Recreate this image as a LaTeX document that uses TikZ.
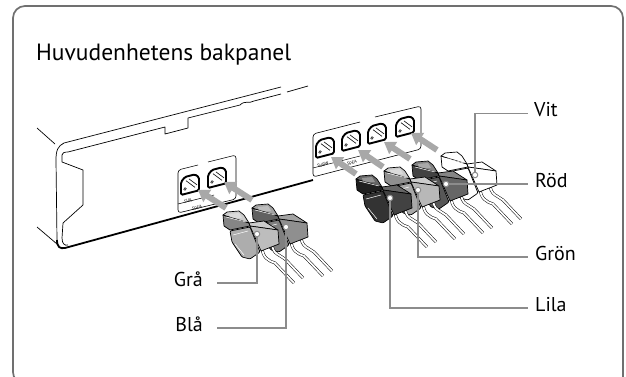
\documentclass[tikz,border=0pt]{standalone}
\usepackage{fontspec}
\setmainfont{PT Sans}
\usetikzlibrary{arrows.meta,calc}
\definecolor{framegray}{RGB}{112,112,112}
\definecolor{leadgray}{RGB}{140,140,140}
\definecolor{arrowgray}{RGB}{168,168,168}

\tikzset{
  lbl/.style={font=\fontsize{20}{24}\selectfont, inner sep=0pt},
  leader/.style={draw=leadgray, line width=1.4pt},
  ldot/.style={circle, fill=white, draw=leadgray, line width=1pt, inner sep=0pt, minimum size=5.5pt},
  cable/.style={draw=black, line width=0.5pt, double=white, double distance=1.8pt},
  pin/.style={-{Triangle[width=14pt,length=11pt]}, line width=6pt, draw=arrowgray},
  edge/.style={line width=0.7pt, line join=round},
  tiny/.style={font=\fontsize{4.5}{5}\selectfont, inner sep=0pt, rotate=14.6},
}

% plug: x, y (dot on the front face), front, side, top, foot colour
\newcommand{\plug}[6]{%
  \begin{scope}[shift={(#1,#2)}]
    \draw[cable] (5,12) .. controls (5,24) and (12,27) .. (18,29) -- (37,49);
    \draw[cable] (15,9) .. controls (15,20) and (23,21) .. (28,25) -- (46,44);
    \filldraw[edge, fill=#6, rounded corners=1pt] (-27,-3) -- (-25,8) -- (-15,23) -- (-7,25) -- (3,18) -- (-7,-7) -- cycle;
    \draw[white, line width=0.5pt] (-24,1) -- (-9,-3);
    \draw[white, line width=0.5pt] (-22,10) -- (-13,21);
    \filldraw[edge, fill=#4] (-34,-19) -- (-33,-8) -- (-27,-4) -- (-7,-8) -- (-8,-11) -- cycle;
    \filldraw[edge, fill=#5] (-34,-19) -- (-30,-22) -- (-18,-23) -- (-13,-19) -- (-8,-11) -- cycle;
    \fill[white, opacity=0.3] (-28,-20) -- (-18,-21) -- (-15,-16) -- (-27,-16) -- cycle;
    \draw[white, line width=0.5pt] (-31,-17) -- (-11,-12);
    \filldraw[edge, fill=#5] (-8,-11) -- (7,-13) -- (21,-4) -- (-7,-8) -- cycle;
    \filldraw[edge, fill=#3] (-7,-8) -- (21,-4) -- (22,10) -- (4,17) -- cycle;
  \end{scope}}

% port socket on the panel
\newcommand{\port}[2]{%
  \begin{scope}[shift={(#1,#2)}, yslant=0.26]
    \filldraw[line width=1.9pt, fill=white, rounded corners=1.5pt] (0,4) -- (4,0) -- (14,0) -- (18,4) -- (18,17) -- (0,17) -- cycle;
    \draw[line width=0.6pt] (5,4) -- (14,13);
    \draw[line width=0.6pt] (8,3) -- (16,11);
    \draw[line width=0.5pt] (4,12) circle (1.3);
  \end{scope}}

\begin{document}
\begin{tikzpicture}[x=1pt,y=-1pt]
  \useasboundingbox (0,0) rectangle (626,377);
  \draw[framegray, line width=1.7pt] (13,372) -- (13,18) arc[start angle=180, end angle=270, radius=12] -- (611,6) arc[start angle=270, end angle=360, radius=12] -- (623,377);
  \draw[framegray, line width=1.7pt] (13,372) arc[start angle=180, end angle=140, radius=12];

  \node[anchor=base west, font=\fontsize{23.5}{28}\selectfont, inner sep=0pt] (title) at (36,61) {Huvudenhetens bakpanel};

  % back panel of the unit
  \draw[edge] (37,128) -- (55,144);
  \draw[edge] (37,227) -- (57,244);
  \draw[edge] (57,240) -- (56,160) .. controls (56,150) and (58,146) .. (64,143) -- (281,87);
  \draw[edge] (287,92) -- (308,86);
  \draw[edge] (62,155) -- (62,162) -- (83,170) -- (83,205) -- (63,223) -- (62,238)
    .. controls (62,244) and (65,246) .. (68,245);
  \draw[edge] (62,155) .. controls (62,153) and (64,152) .. (68,152) -- (165,127) -- (165,134)
    -- (188,128) -- (188,118) -- (240,105) .. controls (245,100) and (249,104) .. (254,101) -- (281,94);
  \draw[line width=1.8pt] (57,240) .. controls (57,247) and (60,249) .. (65,248) -- (313,180);

  % speaker panels
  \draw[line width=0.6pt, rounded corners=3pt, fill=white] (198,165) -- (178,170) -- (178,213) -- (236,199) -- (236,155) -- (208,162);
  \draw[line width=0.6pt, rounded corners=3pt, fill=white] (360,122) -- (313,134) -- (313,177) -- (421,149) -- (421,106) -- (375,117);
  \draw[line width=0.5pt] (178,204) -- (214,195);
  \draw[line width=0.5pt] (313,168) -- (360,156);

  \port{181}{178}
  \port{208}{171}
  \port{316}{141}
  \port{342}{134}
  \port{368}{127}
  \port{396}{120}

  \node[tiny] (tsur) at (188,201) {SUR};
  \node[tiny] (tspa) at (197,208) {SPEA};
  \node[tiny] (tsub) at (323,165) {SUBW};
  \node[tiny] (tspb) at (352,163) {SPEA};

  % insert arrows
  \draw[pin] (226,208) -- (198,190);
  \draw[pin] (252,200) -- (224,182);
  \draw[pin] (356,174) -- (331,157);
  \draw[pin] (383,167) -- (358,150);
  \draw[pin] (410,159) -- (384,142);
  \draw[pin] (437,150) -- (411,133);

  % plugs, back to front
  \plug{475}{175}{white}{white}{white}{white}
  \plug{446}{184}{black!60}{black!74}{black!48}{black!66}
  \plug{418}{190}{black!28}{black!44}{black!20}{black!34}
  \plug{390}{198}{black!74}{black!88}{black!60}{black!80}
  \plug{286}{227}{black!44}{black!62}{black!36}{black!50}
  \plug{257}{234}{black!26}{black!48}{black!20}{black!32}

  % colour labels
  \coordinate (pvit) at (475,175);
  \coordinate (prod) at (446,184);
  \coordinate (pgron) at (418,190);
  \coordinate (plila) at (390,198);
  \coordinate (pgra) at (257,234);
  \coordinate (pbla) at (286,227);

  \node[lbl, anchor=base west] (vit) at (534,117) {Vit};
  \node[lbl, anchor=base west] (rod) at (535,187) {Röd};
  \node[lbl, anchor=base west] (gron) at (535,260) {Grön};
  \node[lbl, anchor=base west] (lila) at (535,311) {Lila};
  \node[lbl, anchor=base east] (gra) at (203,286) {Grå};
  \node[lbl, anchor=base east] (bla) at (203,331) {Blå};

  \draw[leader] (pvit) |- ($(vit.base west)+(-6,-3.5)$);
  \draw[leader] (prod) -- ($(rod.base west)+(-7,-3)$);
  \draw[leader] (pgron) |- ($(gron.base west)+(-7,-3)$);
  \draw[leader] (plila) |- ($(lila.base west)+(-7,-3)$);
  \draw[leader] (pgra) |- ($(gra.base east)+(14,-3)$);
  \draw[leader] (pbla) |- ($(bla.base east)+(14,-3)$);

  \node[ldot] (dvit) at (pvit) {};
  \node[ldot] (drod) at (prod) {};
  \node[ldot] (dgron) at (pgron) {};
  \node[ldot] (dlila) at (plila) {};
  \node[ldot] (dgra) at (pgra) {};
  \node[ldot] (dbla) at (pbla) {};
\end{tikzpicture}
\end{document}
